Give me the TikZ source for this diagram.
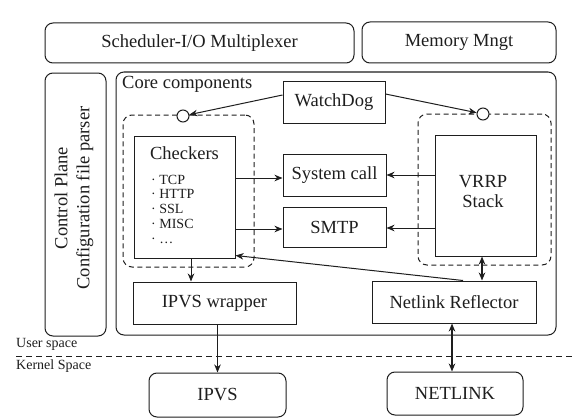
\documentclass[tikz,border=0pt]{standalone}
\usepackage{fontspec}
\setmainfont{Liberation Serif}
\usetikzlibrary{arrows.meta}
\definecolor{ink}{RGB}{30,30,30}
\tikzset{
  every node/.style={text=ink},
  box/.style={draw=ink, line width=1pt, inner sep=0pt, font=\fontsize{18.5}{22}\selectfont},
  rbox/.style={box, rounded corners=8pt},
  dbox/.style={draw=ink, line width=1pt, dash pattern=on 5pt off 3.5pt, rounded corners=9pt},
  conn/.style={draw=ink, line width=1pt, -{Stealth[length=8pt,width=6.5pt,inset=2.5pt]}},
  dconn/.style={draw=ink, line width=1.4pt, {Stealth[length=8pt,width=6.5pt,inset=2.5pt]}-{Stealth[length=8pt,width=6.5pt,inset=2.5pt]}},
  ring/.style={circle, draw=ink, line width=1pt, fill=white, minimum size=12pt, inner sep=0pt},
  item/.style={anchor=base west, inner sep=0pt, font=\fontsize{14}{15}\selectfont},
  small/.style={anchor=west, inner sep=0pt, font=\fontsize{14}{16}\selectfont},
}
\begin{document}
\begin{tikzpicture}[x=1pt,y=-1pt]
\useasboundingbox[fill=white] (0,0) rectangle (578,420);

% top boxes
\node[rbox, minimum width=309pt, minimum height=40pt] (sched) at (199.5,43) {Scheduler-I/O Multiplexer};
\node[rbox, minimum width=194pt, minimum height=41pt] (mem) at (459,42.5) {Memory Mngt};

% control plane
\node[rbox, minimum width=61pt, minimum height=263pt] (ctrl) at (75.5,204.5) {};
\node[rotate=90, align=center, inner sep=0pt, font=\fontsize{18.5}{22}\selectfont] (ctrltxt) at (74,198) {Control Plane\\Configuration file parser};

% core components
\node[rbox, minimum width=440pt, minimum height=263pt] (core) at (336,203.5) {};
\node[anchor=west, inner sep=0pt, font=\fontsize{18.5}{22}\selectfont] (coretxt) at (122,84) {Core components};

% dashed groups
\node[dbox, minimum width=131pt, minimum height=152pt] (ldash) at (188.5,191) {};
\node[dbox, minimum width=133pt, minimum height=151pt] (rdash) at (484.5,189.5) {};

% inner boxes
\node[box, minimum width=102pt, minimum height=42pt] (wd) at (334,102) {WatchDog};
\node[box, minimum width=101pt, minimum height=122pt] (chk) at (184.5,197) {};
\node[inner sep=0pt, font=\fontsize{18.5}{22}\selectfont] (chktxt) at (184.5,153) {Checkers};
\node[item] (i1) at (151,184) {· TCP};
\node[item] (i2) at (151,198.5) {· HTTP};
\node[item] (i3) at (151,213) {· SSL};
\node[item] (i4) at (151,228) {· MISC};
\node[item] (i5) at (151,243) {· …};

\node[box, minimum width=103pt, minimum height=42pt] (sys) at (334.5,175) {System call};
\node[box, minimum width=103pt, minimum height=40pt] (smtp) at (334.5,227) {SMTP};
\node[box, minimum width=101pt, minimum height=121pt] (vrrp) at (485.5,195.5) {};
\node[align=center, inner sep=0pt, font=\fontsize{18.5}{20}\selectfont] (vrrptxt) at (483,192) {VRRP\\Stack};

\node[box, minimum width=163pt, minimum height=42pt] (ipvsw) at (214.5,303) {IPVS wrapper};
\node[box, minimum width=164pt, minimum height=42pt] (nref) at (454,302) {Netlink Reflector};

\node[rbox, minimum width=137pt, minimum height=44pt] (ipvs) at (217.5,395) {IPVS};
\node[rbox, minimum width=136pt, minimum height=43pt] (nl) at (455,393.5) {NETLINK};

% rings
\node[ring] (lring) at (183,116) {};
\node[ring] (rring) at (483,114) {};

% connectors
\draw[conn] ([yshift=7pt]wd.west) -- (lring);
\draw[conn] ([yshift=8pt]wd.east) -- (rring);
\draw[conn] ([yshift=-3pt]chk.east |- sys.west) -- ([yshift=-3pt]sys.west);
\draw[conn] ([yshift=-2pt]chk.east |- smtp.west) -- ([yshift=-2pt]smtp.west);
\draw[conn] (vrrp.west |- sys.east) -- (sys.east);
\draw[conn] ([yshift=-1pt]vrrp.west |- smtp.east) -- ([yshift=-1pt]smtp.east);
\draw[conn] ([xshift=6.5pt]chk.south) -- ([xshift=6.5pt]chk.south |- ipvsw.north);
\draw[conn] ([xshift=9pt]nref.north) -- ([yshift=3pt]chk.south east);
\draw[dconn] ([xshift=-3.5pt]vrrp.south) -- ([xshift=-3.5pt]vrrp.south |- nref.north);
\draw[dconn] ([xshift=-2pt]nref.south) -- ([xshift=-2pt]nref.south |- nl.north);
\draw[conn] (ipvs.north |- ipvsw.south) -- (ipvs.north);

% user / kernel separator
\coordinate (sepL) at (16,356);
\coordinate (sepR) at (574,356);
\draw[ink, line width=1pt, dash pattern=on 6pt off 4pt] (sepL) -- (sepR);
\node[small] (us) at (16,344) {User space};
\node[small] (ks) at (16,366) {Kernel Space};
\end{tikzpicture}
\end{document}
